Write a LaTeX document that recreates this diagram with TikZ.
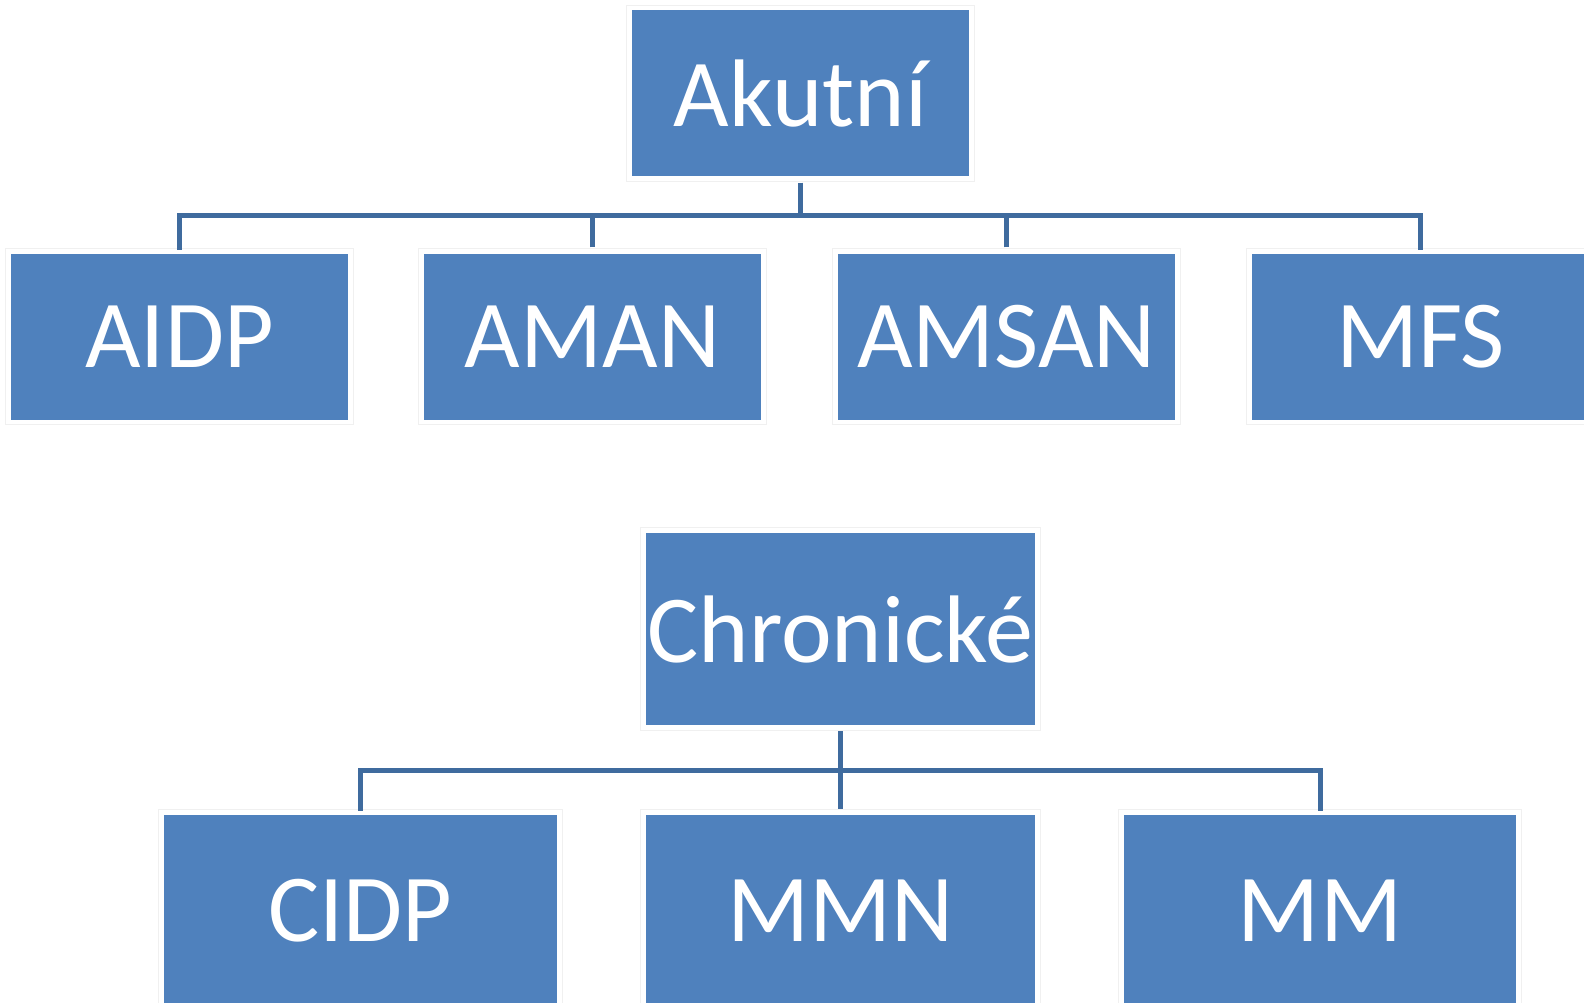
\documentclass[tikz,border=0pt]{standalone}
\usepackage{fontspec}
\setmainfont{Carlito}
\definecolor{boxblue}{HTML}{4F81BD}
\definecolor{linkblue}{HTML}{3F6B9E}
\begin{document}
\begin{tikzpicture}[x=1pt,y=-1pt,
  box/.style={rectangle, fill=boxblue, text=white, inner sep=0pt,
    minimum width=337pt, font=\fontsize{96}{110}\selectfont},
  topbox/.style={box, minimum height=166pt},
  bigbox/.style={box, minimum width=389pt, minimum height=192pt},
  halo/.style={draw=black!6, line width=0.8pt},
  conn/.style={draw=linkblue, line width=5pt}]
\useasboundingbox (0,0) rectangle (1584,1003);
\clip (0,0) rectangle (1584,1003);
\fill[white] (0,0) rectangle (1584,1003);
% top tree
\node[topbox] (ak) at (800.5,93.5) {Akutní};
\node[topbox] (aidp) at (179.5,336.5) {AIDP};
\node[topbox] (aman) at (592.5,336.5) {AMAN};
\node[topbox] (amsan) at (1006.5,336.5) {AMSAN};
\node[topbox] (mfs) at (1420.5,336.5) {MFS};
% bottom tree
\node[bigbox] (chr) at (840.5,629) {Chronické};
\node[bigbox, minimum width=393pt] (cidp) at (360.5,911) {CIDP};
\node[bigbox] (mmn) at (840.5,911) {MMN};
\node[bigbox, minimum width=392pt] (mm) at (1320,911) {MM};
\foreach \n in {ak,aidp,aman,amsan,mfs,chr,cidp,mmn,mm}
  \draw[halo] ([shift={(-5,-5)}]\n.north west) rectangle ([shift={(5,5)}]\n.south east);
% connectors
\coordinate (busA) at (800,215);
\coordinate (busC) at (840,770);
\draw[conn] ([yshift=-6pt]ak.south) -- (ak.south |- busA);
\draw[conn, line cap=rect] ([yshift=6pt]aidp.north) -- (aidp.north |- busA) -- (mfs.north |- busA) -- ([yshift=6pt]mfs.north);
\draw[conn] ([yshift=6pt]aman.north) -- (aman.north |- busA);
\draw[conn] ([yshift=6pt]amsan.north) -- (amsan.north |- busA);
\draw[conn] ([yshift=-6pt]chr.south) -- ([yshift=6pt]mmn.north);
\draw[conn, line cap=rect] ([yshift=6pt]cidp.north) -- (cidp.north |- busC) -- (mm.north |- busC) -- ([yshift=6pt]mm.north);
\end{tikzpicture}
\end{document}
